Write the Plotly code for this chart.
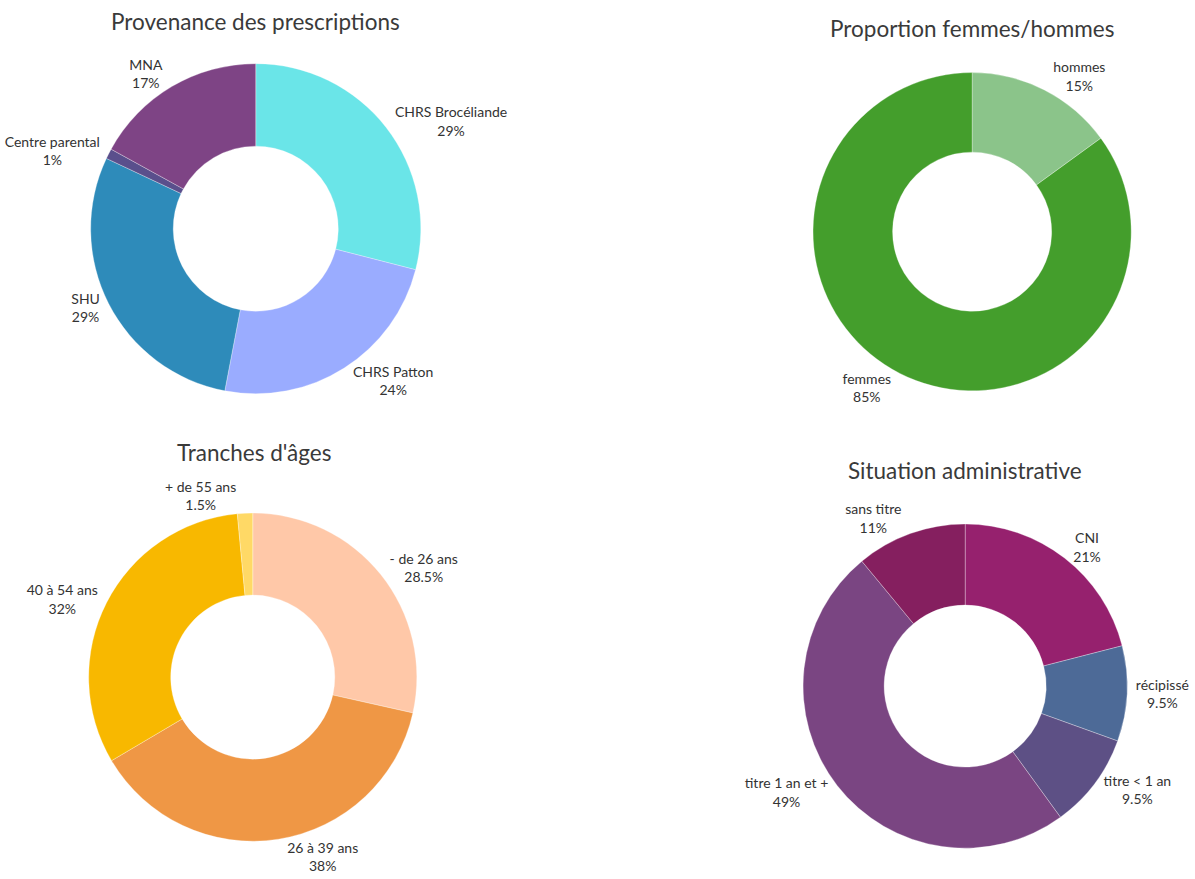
import plotly.graph_objects as go

# data
prov_labels = ["CHRS Brocéliande", "CHRS Patton", "SHU", "Centre parental", "MNA"]
prov_values = [29, 24, 29, 1, 17]
prov_colors = ["#6ae5e8", "#9aacff", "#2e8bba", "#5a4f8c", "#7e4485"]

sexe_labels = ["hommes", "femmes"]
sexe_values = [15, 85]
sexe_colors = ["#8bc48a", "#449e2c"]

age_labels = ["- de 26 ans", "26 à 39 ans", "40 à 54 ans", "+ de 55 ans"]
age_values = [28.5, 38, 32, 1.5]
age_colors = ["#ffc8a8", "#ef9745", "#f8b800", "#ffd966"]

admin_labels = ["CNI", "récipissé", "titre < 1 an", "titre 1 an et +", "sans titre"]
admin_values = [21, 9.5, 9.5, 49, 11]
admin_colors = ["#96216e", "#4d6a97", "#5d5085", "#7a4582", "#851f5f"]

W, H = 1195, 879
FONT = "Lato, 'Open Sans', sans-serif"


def domain(cx, cy, r):
    # pixel centre / radius -> paper domain
    return dict(x=[(cx - r) / W, (cx + r) / W],
                y=[1 - (cy + r) / H, 1 - (cy - r) / H])


def donut(labels, values, colors, dom):
    return go.Pie(
        labels=labels, values=values, sort=False, direction="clockwise",
        rotation=0, hole=0.5, domain=dom,
        marker=dict(colors=colors, line=dict(color="rgba(255,255,255,0.5)", width=0.6)),
        textinfo="label+percent", textposition="outside",
        textfont=dict(family=FONT, size=14, color="#333"),
        showlegend=False,
    )


fig = go.Figure()
fig.add_trace(donut(prov_labels, prov_values, prov_colors, domain(251, 230, 166)))
fig.add_trace(donut(sexe_labels, sexe_values, sexe_colors, domain(971, 233, 160)))
fig.add_trace(donut(age_labels, age_values, age_colors, domain(248, 681, 165)))
fig.add_trace(donut(admin_labels, admin_values, admin_colors, domain(964, 690, 163)))

titles = [
    ("Provenance des prescriptions", 251, 22),
    ("Proportion femmes/hommes", 971, 29),
    ("Tranches d'âges", 249, 455),
    ("Situation administrative", 964, 473),
]
for text, x, y in titles:
    fig.add_annotation(text=text, x=x / W, y=1 - y / H,
                       xref="paper", yref="paper",
                       showarrow=False, xanchor="center", yanchor="middle",
                       font=dict(family=FONT, size=22.5, color="#3a3a3a"))

fig.update_layout(
    width=W, height=H,
    margin=dict(l=0, r=0, t=0, b=0),
    paper_bgcolor="white", plot_bgcolor="white",
    font=dict(family=FONT),
)

fig.write_html(
    "out.html",
    config={"displayModeBar": False},
    post_script="document.body.style.margin='0';document.body.style.overflow='hidden';",
)
